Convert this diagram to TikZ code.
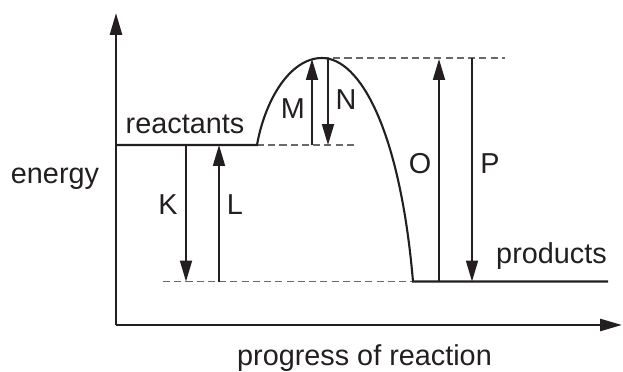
\documentclass[tikz,border=0pt]{standalone}
\definecolor{diagInk}{RGB}{35,31,32}
\definecolor{diagGuide}{RGB}{105,105,105}
\usepackage{fontspec}
\setmainfont{Liberation Sans}
\usepackage{tikz}
\usetikzlibrary{arrows.meta,calc}

\begin{document}
\begin{tikzpicture}[x=0.02cm, y=-0.02cm,
    axis/.style={draw=diagInk, line width=1.5pt, -{Triangle[length=0.44cm, width=0.24cm]}},
    level/.style={draw=diagInk, line width=1.2pt},
    guide/.style={draw=diagGuide, line width=0.6pt, dash pattern=on 4pt off 2.4pt},
    dim/.style={draw=diagInk, line width=1pt, -{Triangle[length=0.42cm, width=0.24cm]}},
    lbl/.style={text=diagInk, font=\fontsize{16.4}{19}\selectfont, inner sep=0pt}
  ]
  \useasboundingbox (0,0) rectangle (623,372);

  \coordinate (origin)  at (116,325);
  \coordinate (ytop)    at (116,13);
  \coordinate (xend)    at (622,325);
  \coordinate (rstart)  at (116,145);
  \coordinate (reac)    at (257,145);
  \coordinate (reacend) at (358,145);
  \coordinate (peak)    at (322,58);
  \coordinate (peakend) at (505,58);
  \coordinate (prod)    at (413,281.5);
  \coordinate (prodend) at (608,281.5);
  \coordinate (lowend)  at (163,281.5);
  \foreach \nm/\x in {k/186, l/219, m/312, n/328, o/439, p/472}
    \coordinate (\nm) at (\x,0);

  \draw[guide] (reac) -- (reacend);
  \draw[guide] (peak) -- (peakend);
  \draw[guide] (lowend) -- (prod);

  \draw[axis] (origin) -- (ytop);
  \draw[axis] (origin) -- (xend);

  \draw[level] (rstart) -- (reac)
    .. controls (265,100) and (290,58) .. (peak)
    .. controls (360,58) and (400,130) .. (prod) -- (prodend);

  \draw[dim] (k |- reac) -- (k |- prod);
  \draw[dim] (l |- prod) -- (l |- reac);
  \draw[dim] (m |- reac) -- ($(m |- peak)+(0,1)$);
  \draw[dim] (n |- peak) -- (n |- reac);
  \draw[dim] (o |- prod) -- ($(o |- peak)+(0,1)$);
  \draw[dim] (p |- peak) -- (p |- prod);

  \node[lbl, anchor=base] (reactants) at (185,133) {reactants};
  \node[lbl, anchor=base] (products)  at (551.5,263) {products};
  \node[lbl, anchor=base] (energy)    at (55,183) {energy};
  \node[lbl, anchor=base] (progress)  at (364.5,365) {progress of reaction};
  \node[lbl] (lblK) at (168,205) {K};
  \node[lbl] (lblL) at (235,205) {L};
  \node[lbl] (lblM) at (293,109) {M};
  \node[lbl] (lblN) at (346,100) {N};
  \node[lbl] (lblO) at (420,164) {O};
  \node[lbl] (lblP) at (490,164) {P};
\end{tikzpicture}
\end{document}
